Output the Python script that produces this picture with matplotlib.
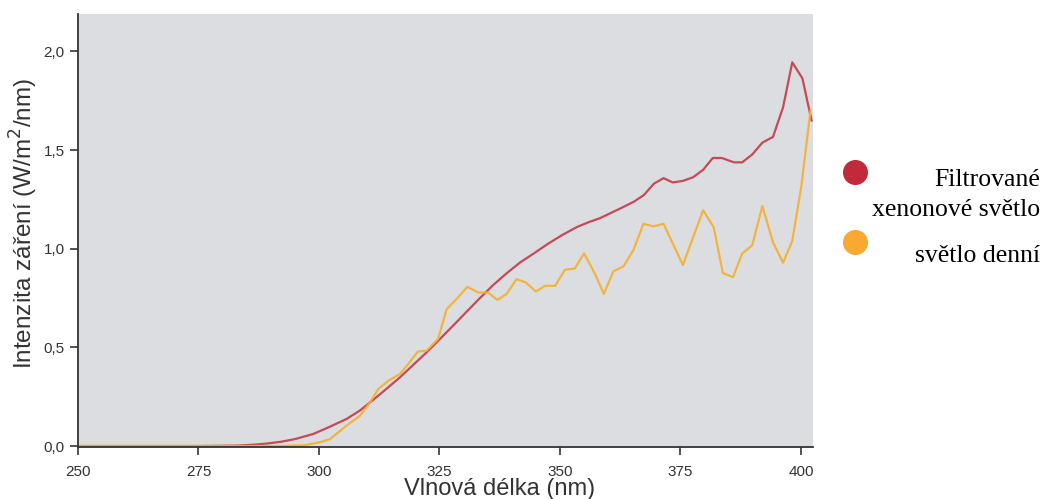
import matplotlib
matplotlib.use("Agg")
import matplotlib.pyplot as plt
from matplotlib.lines import Line2D
from matplotlib.ticker import FuncFormatter

# xenonove svetlo (filtrovane)
xenon_nm = [250, 275, 283, 286, 289, 292, 295, 298.8, 302, 305.7, 308.5, 311.3, 314, 316.8,
            319.5, 322.3, 325, 327.9, 330.6, 333.4, 336.1, 338.9, 341.7, 344.5, 347.5,
            350.5, 353.5, 356, 358.3, 362.5, 365.3, 367.4, 369.5, 371.5, 373.4, 375.5,
            377.6, 379.7, 381.7, 383.6, 386.1, 387.8, 389.9, 392.0, 394.2, 396.3,
            398.2, 400.3, 402.2]
xenon_val = [0.0, 0.0, 0.002, 0.006, 0.012, 0.021, 0.035, 0.061, 0.095, 0.137, 0.18, 0.235,
             0.29, 0.348, 0.41, 0.474, 0.54, 0.612, 0.68, 0.75, 0.815, 0.875, 0.93, 0.975,
             1.025, 1.07, 1.11, 1.135, 1.155, 1.204, 1.238, 1.272, 1.33, 1.358, 1.336,
             1.344, 1.362, 1.40, 1.46, 1.46, 1.438, 1.438, 1.478, 1.538, 1.567, 1.718,
             1.945, 1.864, 1.65]

# denni svetlo
day_nm = [250, 292, 297, 300.2, 302.3, 305.7, 308.5, 310.6, 312.3, 314.4, 316.8, 318.5,
          320.5, 322.3, 324.7, 326.5, 328.5, 330.8, 333.0, 335.1, 337.0, 338.9, 341.0,
          342.9, 345.0, 346.9, 349.0, 351.0, 353.1, 355.0, 357.3, 359.1, 361.1, 363.2,
          365.3, 367.3, 369.4, 371.5, 375.5, 379.7, 381.9, 383.8, 385.9, 387.8, 389.9,
          392.0, 394.2, 396.3, 398.2, 400.1, 402.0]
day_val = [0.0, 0.0, 0.004, 0.019, 0.035, 0.103, 0.153, 0.221, 0.289, 0.331, 0.365, 0.415,
           0.479, 0.483, 0.542, 0.694, 0.744, 0.807, 0.778, 0.778, 0.741, 0.77, 0.846,
           0.829, 0.783, 0.812, 0.812, 0.893, 0.9, 0.977, 0.871, 0.771, 0.886, 0.911,
           0.997, 1.126, 1.114, 1.126, 0.918, 1.195, 1.109, 0.877, 0.856, 0.975, 1.018,
           1.217, 1.032, 0.929, 1.04, 1.32, 1.705]

x_ticks = [250, 275, 300, 325, 350, 375, 400]
y_ticks = [0.0, 0.5, 1.0, 1.5, 2.0]

red = "#c0303f"
orange = "#f5b02e"

plt.rcParams["font.family"] = ["Liberation Sans", "DejaVu Sans"]

fig = plt.figure(figsize=(10.44, 4.99), dpi=100)
ax = fig.add_axes([78 / 1044, 52 / 499, 735 / 1044, 433 / 499])
ax.set_facecolor("#dcdde0")

ax.plot(xenon_nm, xenon_val, color=red, lw=1.6, alpha=0.85)
ax.plot(day_nm, day_val, color=orange, lw=1.6, alpha=0.9)

ax.set_xlim(250, 402.5)
ax.set_ylim(-0.005, 2.19)
ax.set_xticks(x_ticks)
ax.set_yticks(y_ticks)
ax.yaxis.set_major_formatter(FuncFormatter(lambda v, p: f"{v:.1f}".replace(".", ",")))
ax.tick_params(direction="out", length=6, width=1.2, colors="#333333",
               labelsize=11, labelcolor="#333333")
ax.tick_params(axis="x", pad=7)

for s in ["top", "right"]:
    ax.spines[s].set_visible(False)
for s in ["left", "bottom"]:
    ax.spines[s].set_color("#333333")
    ax.spines[s].set_linewidth(1.3)

fig.text(24 / 1044, (499 - 223) / 499, "Intenzita záření (W/m$^2$/nm)", rotation=90,
         ha="center", va="center", fontsize=17.5, color="#333333")
fig.text(500 / 1044, 10 / 499, "Vlnová délka (nm)", ha="center", va="center",
         fontsize=17, color="#333333")

# legenda
for yy, c in [(172, "#c12a3a"), (242, "#f9a832")]:
    fig.add_artist(Line2D([855 / 1044], [(499 - yy) / 499], marker="o", markersize=17,
                          color=c, linestyle="none", transform=fig.transFigure))
fig.text(1040 / 1044, (499 - 180) / 499, "Filtrované", ha="right", va="center",
         fontsize=18.5, family="Liberation Serif")
fig.text(1040 / 1044, (499 - 210) / 499, "xenonové světlo", ha="right", va="center",
         fontsize=18.5, family="Liberation Serif")
fig.text(1040 / 1044, (499 - 256) / 499, "světlo denní", ha="right", va="center",
         fontsize=18.5, family="Liberation Serif")

fig.savefig("out.png", dpi=100)
